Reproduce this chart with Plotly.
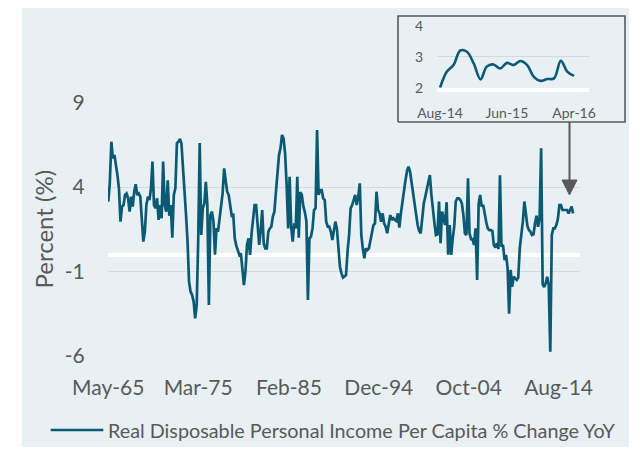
import pandas as pd
import plotly.graph_objects as go

W, H = 637, 450
# the page places the figure 8px in from the window's top-left corner
OFF = 8

# ---------------- data (2-month steps from May-1965) ----------------
values_1965_1975 = [3.13, 4.22, 6.68, 5.70, 5.89, 5.40, 4.71, 3.92, 1.95, 2.84,
                    2.93, 3.53, 3.62, 3.33, 2.54, 3.43, 2.84, 3.72, 4.16, 3.53,
                    3.62, 3.43, 2.15, 0.77, 1.36, 2.93, 3.43, 3.23, 3.92, 5.50,
                    2.93, 2.74, 3.33, 2.05, 2.93, 2.15, 5.50, 2.93, 2.54, 4.40,
                    2.30, 2.93, 1.00, 3.53, 3.92, 6.58, 6.68, 6.84, 6.58, 4.91,
                    4.02, 2.34, 0.77, -1.60, -2.19, -2.39, -2.78, -3.77, -2.98, 0.77]
values_1975_1985 = [6.60, 1.16, 2.74, 3.03, 4.30, 2.93, -2.98, 2.34, 2.54, 1.95,
                    0.00, 1.55, 1.36, 2.05, 2.74, 3.62, 5.10, 4.27, 3.72, 3.53,
                    2.74, 2.30, 2.34, 0.96, 0.53, 0.17, -0.02, 0.07, -1.01, -1.80,
                    -1.01, 0.57, 0.96, -0.02, 1.26, 2.05, 2.93, 2.93, 1.36, 0.57,
                    1.45, 2.64, 0.67, 0.37, 0.37, 1.36, 1.55, 1.65, 2.25, 2.54,
                    3.72, 5.00, 5.89, 6.29, 7.08, 6.88, 5.99, 4.12, 1.55, 4.61]
values_1985_1995 = [1.65, 0.77, 1.85, 1.55, 4.60, 1.00, 3.70, 3.53, 2.84, 2.50,
                    1.95, -2.69, 0.96, 1.06, 1.55, 2.64, 2.74, 7.37, 3.53, 3.82,
                    3.82, 3.33, 3.23, 1.95, 1.65, 1.65, 1.36, 0.86, 1.55, 1.95,
                    1.55, 0.27, -0.72, -1.11, -1.36, -1.30, -1.21, 0.17, 1.16, 2.74,
                    2.93, 3.23, 3.53, 2.93, 3.43, 4.22, 1.16, 0.37, -0.22, 0.37,
                    0.27, 0.37, 0.77, 1.16, 1.75, 1.85, 3.72, 2.64, 2.44, 1.95]
values_1995_2005 = [2.44, 1.85, 1.65, 1.26, 1.85, 2.34, 2.05, 2.15, 2.05, 1.99,
                    2.44, 1.59, 2.44, 3.17, 3.88, 4.41, 4.95, 5.20, 4.91, 4.27,
                    3.62, 2.93, 2.25, 1.75, 1.40, 1.26, 2.15, 3.03, 3.43, 3.82,
                    4.41, 4.71, 3.53, 2.54, 1.85, 1.16, 1.20, 3.14, 0.67, 2.54,
                    2.15, 1.75, 3.10, 0.00, 1.75, -0.02, 0.96, 1.65, 3.14, 3.33,
                    3.33, 3.23, 3.03, 2.34, 1.26, 1.16, 4.51, 1.26, 0.92, 0.92]
values_2005_2016 = [0.57, 1.55, -1.50, 3.00, 3.53, 2.84, 2.93, 2.34, 1.91, 1.55,
                    1.45, 1.45, 1.40, 0.57, 0.41, 0.67, 0.33, 4.70, 0.47, 0.57,
                    -0.32, -0.02, -0.81, -3.50, -0.91, -1.90, -1.31, -1.41, -1.50, -1.36,
                    0.37, 1.16, 1.95, 3.14, 2.34, 1.71, 1.45, 1.36, 1.16, 1.20,
                    1.85, 2.30, 1.65, 2.15, 6.29, -1.76, -1.92, -1.70, -1.31, -1.80,
                    -5.74, 1.16, 1.55, 1.55, 1.75, 2.11, 2.93, 2.93, 2.64, 2.64,
                    2.64, 2.64, 2.44, 2.64, 2.84, 2.44]

main_values = (values_1965_1975 + values_1975_1985 + values_1985_1995
               + values_1995_2005 + values_2005_2016)
main_dates = pd.date_range("1965-05-01", periods=len(main_values), freq="2MS")

x_tick_dates = ["1965-05-01", "1975-03-01", "1985-02-01",
                "1994-12-01", "2004-10-01", "2014-08-01"]
x_tick_labels = ["May-65", "Mar-75", "Feb-85", "Dec-94", "Oct-04", "Aug-14"]
y_ticks = [-6, -1, 4, 9]
y_tick_labels = ["-6", "-1", "4", "9"]

inset_values = [2.00, 2.52, 2.73, 3.20, 3.16, 2.78, 2.27, 2.68, 2.75, 2.62,
                2.80, 2.73, 2.86, 2.73, 2.35, 2.22, 2.28, 2.30, 2.87, 2.52, 2.38]
inset_dates = pd.date_range("2014-08-01", periods=len(inset_values), freq="MS")
inset_tick_dates = ["2014-08-01", "2015-06-01", "2016-04-01"]
inset_tick_labels = ["Aug-14", "Jun-15", "Apr-16"]
inset_y_ticks = [2, 3, 4]

series_name = "Real Disposable Personal Income Per Capita % Change YoY"

# ---------------- styling ----------------
FONT = "Lato"
TXT = "#595959"
PANEL = "#E8F0F3"
GRID = "#D3DADD"
LINE = "#0B5A73"
BORDER = "#595959"


def px(x):
    return (x - OFF) / W


def py(y):
    return 1 - (y - OFF) / H


fig = go.Figure()

fig.add_trace(go.Scatter(
    x=main_dates, y=main_values, mode="lines", name=series_name,
    line=dict(color=LINE, width=2.7), xaxis="x", yaxis="y", showlegend=False))

# inset frame (its own hidden subplot so it sits above the main grid)
pad_x, pad_y = 3 / 227, 3 / 106
fig.add_trace(go.Scatter(
    x=[0, 1, 1, 0, 0], y=[0, 0, 1, 1, 0], mode="lines", fill="toself",
    fillcolor=PANEL, line=dict(color=BORDER, width=1.6),
    xaxis="x2", yaxis="y2", showlegend=False, hoverinfo="skip"))

fig.add_trace(go.Scatter(
    x=inset_dates, y=inset_values, mode="lines", line_shape="spline",
    name=series_name,
    line=dict(color=LINE, width=2.6), xaxis="x3", yaxis="y3",
    showlegend=False))

fig.update_layout(
    width=W, height=H,
    margin=dict(l=0, r=0, t=0, b=0, autoexpand=False),
    paper_bgcolor="white",
    plot_bgcolor="rgba(0,0,0,0)",
    showlegend=False,
    font=dict(family=FONT, color=TXT),
    xaxis=dict(
        domain=[px(108), px(580)], type="date",
        range=["1965-04-20", "2016-12-01"],
        tickmode="array", tickvals=x_tick_dates, ticktext=x_tick_labels,
        tickangle=0,
        showgrid=False, zeroline=False, showline=False,
        ticks="outside", ticklen=13, tickcolor="rgba(0,0,0,0)",
        tickfont=dict(size=21, color=TXT, family=FONT)),
    yaxis=dict(
        domain=[py(356), py(102.5)], range=[-6, 9],
        tickmode="array", tickvals=y_ticks, ticktext=y_tick_labels,
        showgrid=True, gridcolor=GRID, gridwidth=1.3,
        zeroline=True, zerolinecolor="white", zerolinewidth=3.5,
        showline=False,
        ticks="outside", ticklen=18, tickcolor="rgba(0,0,0,0)",
        tickfont=dict(size=21, color=TXT, family=FONT),
        title=dict(text="Percent (%)", font=dict(size=24, color=TXT, family=FONT),
                   standoff=4)),
    xaxis2=dict(domain=[px(395), px(628)], range=[-pad_x, 1 + pad_x],
                visible=False, fixedrange=True),
    yaxis2=dict(domain=[py(125), py(13)], range=[-pad_y, 1 + pad_y],
                visible=False, fixedrange=True, anchor="x2"),
    xaxis3=dict(
        domain=[px(437), px(589)], type="date", anchor="y3",
        range=["2014-07-18", "2016-06-08"],
        tickmode="array", tickvals=inset_tick_dates, ticktext=inset_tick_labels,
        tickangle=0,
        showgrid=False, zeroline=False,
        showline=True, linecolor="white", linewidth=3.5, layer="below traces",
        ticks="outside", ticklen=10, tickcolor="rgba(0,0,0,0)",
        tickfont=dict(size=14, color=TXT, family=FONT)),
    yaxis3=dict(
        domain=[py(87.7), py(25.7)], range=[2, 4], anchor="x3",
        tickmode="array", tickvals=inset_y_ticks,
        showgrid=True, gridcolor=GRID, gridwidth=1.3, zeroline=False,
        ticks="outside", ticklen=10, tickcolor="rgba(0,0,0,0)",
        tickfont=dict(size=14, color=TXT, family=FONT)),
    annotations=[
        dict(text=series_name, xref="paper", yref="paper",
             x=px(106), y=py(430), xanchor="left", yanchor="middle",
             showarrow=False, font=dict(size=19.8, color=TXT, family=FONT)),
    ],
    shapes=[
        dict(type="rect", xref="paper", yref="paper", layer="below",
             x0=px(22), x1=px(634), y0=py(447), y1=py(5),
             fillcolor=PANEL, line=dict(width=0)),
        # legend key
        dict(type="line", xref="paper", yref="paper", layer="above",
             x0=px(50.7), x1=px(103.3), y0=py(430), y1=py(430),
             line=dict(color=LINE, width=2.6)),
        # arrow from inset to the latest data
        dict(type="line", xref="paper", yref="paper", layer="above",
             x0=px(569.5), x1=px(569.5), y0=py(122), y1=py(182),
             line=dict(color=BORDER, width=2)),
        dict(type="path", xref="paper", yref="paper", layer="above",
             path=(f"M {px(562)} {py(180)} L {px(577)} {py(180)} "
                   f"L {px(569.5)} {py(195)} Z"),
             fillcolor=BORDER, line=dict(color=BORDER, width=1)),
    ],
)

fig.write_html("out.html")
